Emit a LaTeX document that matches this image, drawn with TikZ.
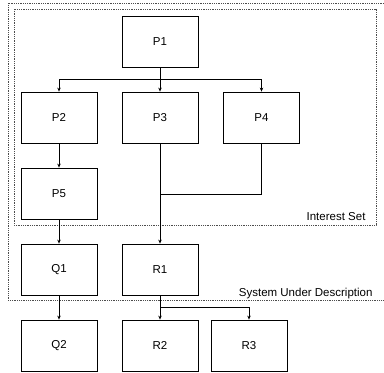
\documentclass[tikz,border=0pt]{standalone}
\usepackage{fontspec}
\setmainfont{Liberation Sans}
\usetikzlibrary{arrows.meta}

\tikzset{
    block/.style={draw, thick, minimum width=76pt, minimum height=51pt, inner sep=0pt},
    flow/.style={thick, -{Stealth[length=4pt,width=3.5pt]}},
    region/.style={densely dotted, thick, draw=black!70},
}

\begin{document}
\begin{tikzpicture}[x=1pt, y=-1pt, font=\fontsize{11.5}{13}\selectfont]
    \useasboundingbox (0,0) rectangle (384,373);

    % Regions
    \draw[region] (384,3) -- (8,3) -- (8,300) -- (384,300);
    \draw[region] (14,9) rectangle (376,225);
    \node[anchor=base east] (interest) at (369,220) {Interest Set};
    \node[anchor=base east] (system) at (376,296) {System Under Description};

    % Blocks
    \node[block] (P1) at (160,41.5) {P1};
    \node[block] (P2) at (59,117.5) {P2};
    \node[block] (P3) at (160,117.5) {P3};
    \node[block] (P4) at (261.5,117.5) {P4};
    \node[block] (P5) at (59,193.5) {P5};
    \node[block] (Q1) at (59,269.5) {Q1};
    \node[block] (R1) at (160,269.5) {R1};
    \node[block] (Q2) at (59,345.5) {Q2};
    \node[block] (R2) at (160,345.5) {R2};
    \node[block] (R3) at (249,345.5) {R3};

    % Branch points
    \coordinate (busL) at (59,79);
    \coordinate (busR) at (261.5,79);
    \coordinate (join) at (160,194);
    \coordinate (fork) at (160,307);

    % Connectors
    \draw[thick] (busL) -- (busR);
    \draw[flow] (P1.south) -- (P3.north);
    \draw[flow] (busL) -- (P2.north);
    \draw[flow] (busR) -- (P4.north);
    \draw[flow] (P2.south) -- (P5.north);
    \draw[flow] (P5.south) -- (Q1.north);
    \draw[thick] (P4.south) |- (join);
    \draw[flow] (P3.south) -- (R1.north);
    \draw[flow] (Q1.south) -- (Q2.north);
    \draw[flow] (R1.south) -- (R2.north);
    \draw[flow] (fork) -| (R3.north);

\end{tikzpicture}
\end{document}
